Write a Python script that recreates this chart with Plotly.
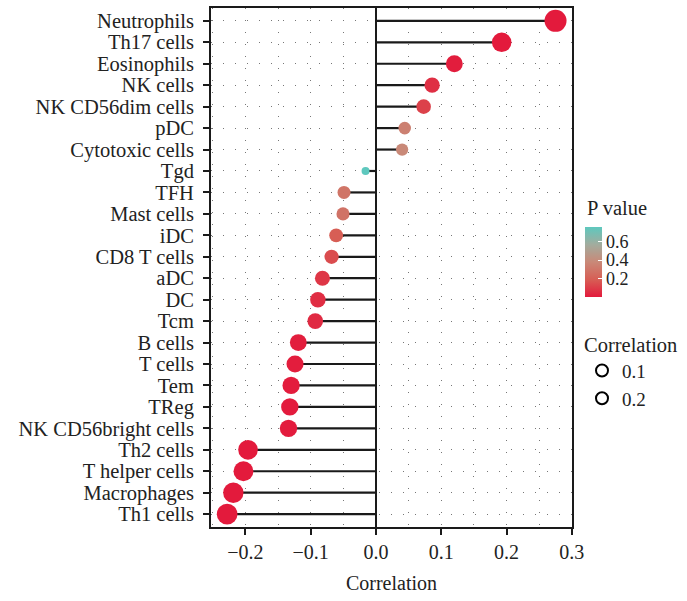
import plotly.graph_objects as go

# ---- data ----
cells = ["Neutrophils", "Th17 cells", "Eosinophils", "NK cells", "NK CD56dim cells",
         "pDC", "Cytotoxic cells", "Tgd", "TFH", "Mast cells", "iDC", "CD8 T cells",
         "aDC", "DC", "Tcm", "B cells", "T cells", "Tem", "TReg", "NK CD56bright cells",
         "Th2 cells", "T helper cells", "Macrophages", "Th1 cells"]
correlation = [0.275, 0.1925, 0.120, 0.086, 0.073, 0.044, 0.040, -0.016, -0.049, -0.0505,
               -0.061, -0.068, -0.082, -0.089, -0.093, -0.119, -0.124, -0.130, -0.132, -0.134,
               -0.196, -0.203, -0.2185, -0.228]
p_value = [0.000001, 0.00003, 0.009, 0.06, 0.11, 0.34, 0.38, 0.76, 0.29, 0.28,
           0.19, 0.14, 0.077, 0.054, 0.044, 0.010, 0.007, 0.005, 0.004, 0.004,
           0.00002, 0.00001, 0.000002, 0.000001]
x_ticks = [-0.2, -0.1, 0.0, 0.1, 0.2, 0.3]
cbar_ticks = [0.2, 0.4, 0.6]
size_legend_values = ["0.1", "0.2"]

FONT = "Liberation Serif"

# marker size (area scaling between min and max |r|)
absr = [abs(v) for v in correlation]
amin, amax = min(absr), max(absr)
sizes = [8 + 14 * ((a - amin) / (amax - amin)) ** 0.5 for a in absr]

colorscale = [[0.0, "#E31A3C"], [0.25, "#D75E55"], [0.5, "#C98978"],
              [0.75, "#A2AC9E"], [1.0, "#5EC8BE"]]

PL, PT, PW, PH = 211, 8, 361, 519  # plot area in pixels


def px_x(p):
    return (p - PL) / PW


def px_y(p):
    return 1 - (p - PT) / PH


fig = go.Figure()

# lollipop stems
seg_x, seg_y = [], []
for c, v in zip(cells, correlation):
    seg_x += [0, v, None]
    seg_y += [c, c, None]
fig.add_trace(go.Scatter(x=seg_x, y=seg_y, mode="lines",
                         line=dict(color="#1a1a1a", width=2.2),
                         showlegend=False, hoverinfo="skip"))

# points
fig.add_trace(go.Scatter(
    x=correlation, y=cells, mode="markers", showlegend=False,
    marker=dict(size=sizes, color=p_value, colorscale=colorscale,
                cmin=min(p_value), cmax=max(p_value), line=dict(width=0), opacity=1,
                colorbar=dict(
                    xref="paper", yref="paper",
                    x=px_x(585), xanchor="left", y=px_y(227), yanchor="top",
                    len=70, lenmode="pixels", thickness=17, outlinewidth=0,
                    tickvals=cbar_ticks, ticktext=[f"{t:.1f}" for t in cbar_ticks],
                    ticks="inside", tickcolor="white", ticklen=4, tickwidth=1,
                    tickfont=dict(family=FONT, size=18, color="#222"), xpad=0, ypad=0))))

# size legend
for lab in size_legend_values:
    fig.add_trace(go.Scatter(x=[None], y=[None], mode="markers", name=lab,
                             marker=dict(symbol="circle-open", size=13, color="black",
                                         line=dict(width=1.2))))

grid = dict(showgrid=True, gridcolor="#777777", gridwidth=1, griddash="1px,11px")

fig.update_xaxes(range=[-0.2527, 0.3002], tickvals=x_ticks,
                 ticktext=[("−" if t < 0 else "") + f"{abs(t):.1f}" for t in x_ticks],
                 ticks="outside", ticklen=6, tickwidth=2, tickcolor="#1a1a1a",
                 showline=True, linecolor="#1a1a1a", linewidth=2, mirror=True,
                 zeroline=True, zerolinecolor="#1a1a1a", zerolinewidth=2,
                 **grid,
                 minor=dict(dtick=0.05, tick0=0, showgrid=True, gridcolor="#777777",
                            gridwidth=1, griddash="1px,11px", ticks=""),
                 tickfont=dict(family=FONT, size=20, color="#222"),
                 title=dict(text="Correlation", font=dict(family=FONT, size=20, color="#222"), standoff=14))
fig.update_yaxes(categoryorder="array", categoryarray=cells,
                 tickmode="array", tickvals=cells, ticktext=cells,
                 range=[len(cells) - 0.4, -0.6],
                 ticks="outside", ticklen=6, tickwidth=2, tickcolor="#1a1a1a",
                 showline=True, linecolor="#1a1a1a", linewidth=2, mirror=True,
                 ticklabelstandoff=5,
                 **grid,
                 tickfont=dict(family=FONT, size=20.5, color="#222"))

fig.update_layout(
    width=687, height=601,
    margin=dict(l=PL, r=687 - PL - PW, t=PT, b=601 - PT - PH, autoexpand=False),
    paper_bgcolor="white", plot_bgcolor="white",
    font=dict(family=FONT, color="#222"),
    legend=dict(title=dict(text="Correlation", font=dict(family=FONT, size=20.5)),
                font=dict(family=FONT, size=19),
                xref="paper", yref="paper",
                x=px_x(582), xanchor="left", y=px_y(325), yanchor="top",
                bgcolor="rgba(0,0,0,0)", itemsizing="constant", tracegroupgap=0),
    annotations=[dict(text="P value", xref="paper", yref="paper",
                      x=px_x(585), y=px_y(208),
                      xanchor="left", yanchor="middle", showarrow=False,
                      font=dict(family=FONT, size=20.5, color="#222"))],
)

fig.write_html("out.html")
